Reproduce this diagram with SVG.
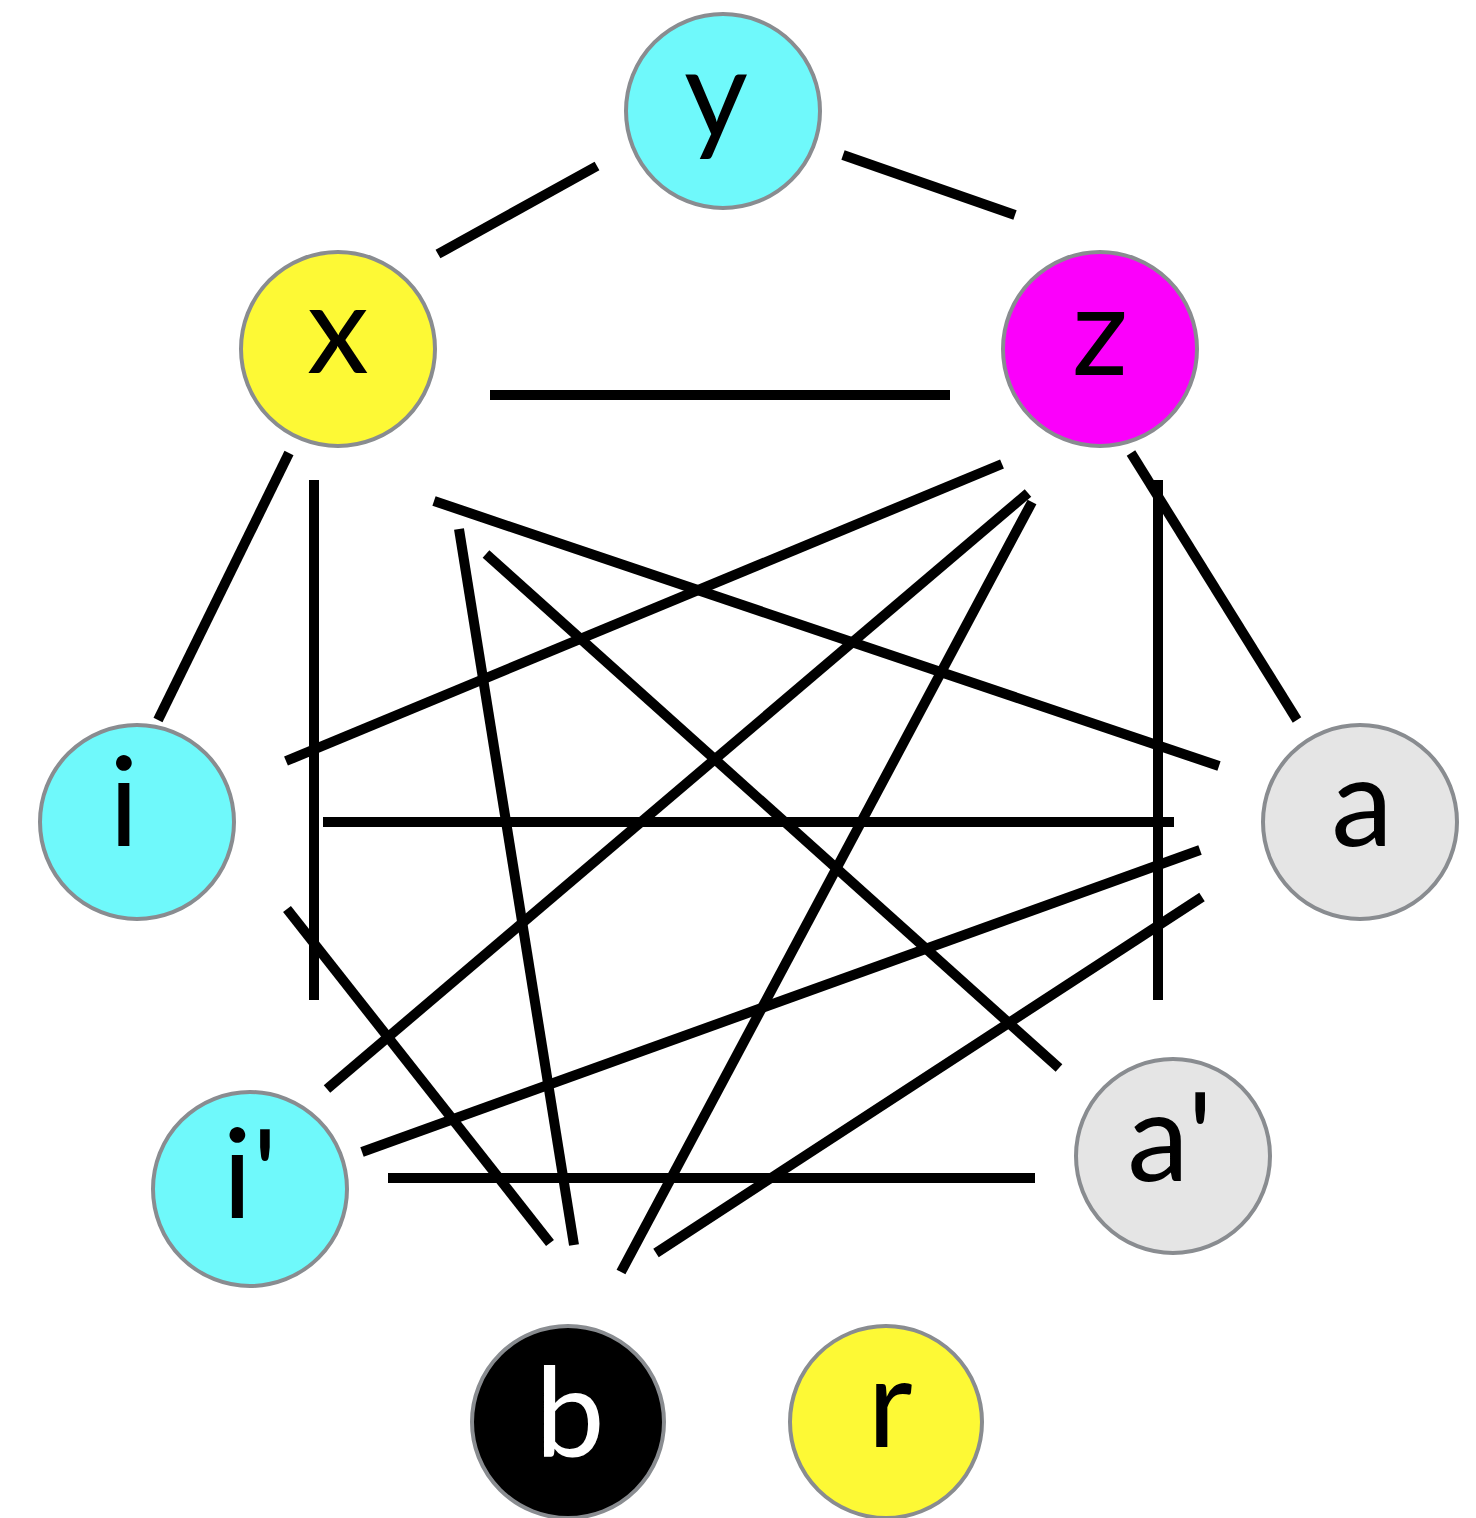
<svg xmlns="http://www.w3.org/2000/svg" width="1476" height="1518" viewBox="0 0 1476 1518">
<style>
.e{stroke:#000;stroke-width:10;stroke-linecap:butt;fill:none}
.n{stroke:#898c90;stroke-width:4}
.t{font-family:Lato,"Open Sans",sans-serif;font-size:124px;text-anchor:middle;fill:#000}
</style>
<rect width="1476" height="1518" fill="#fff"/>
<g id="connectors" class="e">
<line x1="438" y1="254" x2="597" y2="166"/>
<line x1="843" y1="155" x2="1015" y2="215"/>
<line x1="490" y1="395" x2="950" y2="395"/>
<line x1="289" y1="453" x2="158" y2="720"/>
<line x1="314" y1="480" x2="314" y2="1000"/>
<line x1="434" y1="501" x2="1219" y2="766"/>
<line x1="459" y1="529" x2="574" y2="1245"/>
<line x1="486" y1="554" x2="1059" y2="1068"/>
<line x1="1002" y1="464" x2="286" y2="761"/>
<line x1="1028" y1="493" x2="327" y2="1089"/>
<line x1="1032" y1="502" x2="621" y2="1272"/>
<line x1="1131" y1="453" x2="1297" y2="720"/>
<line x1="1158" y1="480" x2="1158" y2="1000"/>
<line x1="323" y1="822" x2="1174" y2="822"/>
<line x1="1200" y1="850" x2="362" y2="1152"/>
<line x1="1202" y1="897" x2="656" y2="1253"/>
<line x1="287" y1="909" x2="550" y2="1243"/>
<line x1="388" y1="1178" x2="1035" y2="1178"/>
</g>
<g id="node-y"><circle class="n" cx="723" cy="111" r="97" fill="#6ff9fb"/><text class="t" x="716" y="138">y</text></g>
<g id="node-x"><circle class="n" cx="338" cy="349" r="97" fill="#fdf935"/><text class="t" x="338" y="373">x</text></g>
<g id="node-z"><circle class="n" cx="1100" cy="349" r="97" fill="#fb00fb"/><text class="t" x="1100" y="375">z</text></g>
<g id="node-i"><circle class="n" cx="137" cy="822" r="97" fill="#6ff9fb"/><text class="t" x="124" y="846">i</text></g>
<g id="node-a"><circle class="n" cx="1360" cy="822" r="97" fill="#e5e5e5"/><text class="t" x="1362" y="846">a</text></g>
<g id="node-i2"><circle class="n" cx="250" cy="1189" r="97" fill="#6ff9fb"/><text class="t" x="250" y="1218">i'</text></g>
<g id="node-a2"><circle class="n" cx="1173" cy="1156" r="97" fill="#e5e5e5"/><text class="t" x="1170" y="1181">a'</text></g>
<g id="node-b"><circle class="n" cx="568" cy="1422" r="96" fill="#000"/><text class="t" x="570" y="1456" style="fill:#fff">b</text></g>
<g id="node-r"><circle class="n" cx="886" cy="1422" r="96" fill="#fdf935"/><text class="t" x="890" y="1447">r</text></g>
</svg>
